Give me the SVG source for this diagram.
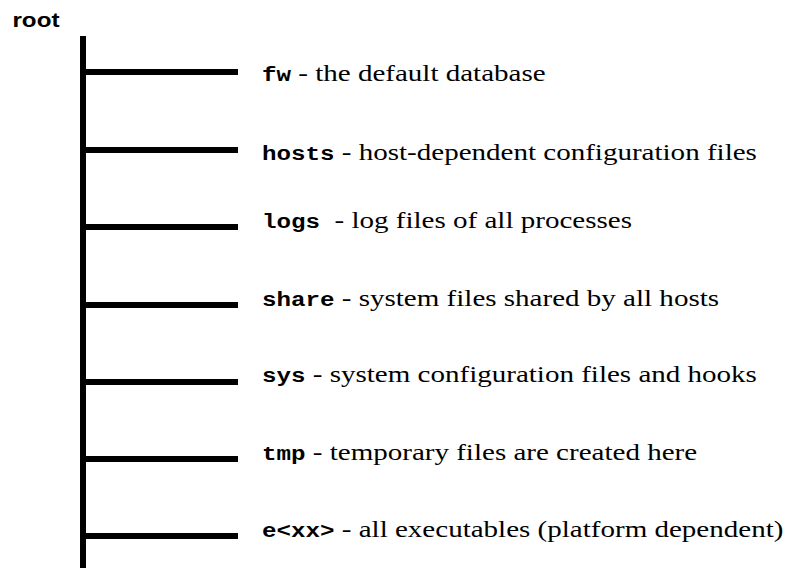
<svg xmlns="http://www.w3.org/2000/svg" width="788" height="568" viewBox="0 0 788 568">
<style>
.br{stroke:#000;stroke-width:6;fill:none}
.m{font-family:"Liberation Mono","Courier New",monospace;font-weight:bold;font-size:20px}
.t{font-family:"Liberation Serif","Times New Roman",serif;font-size:24px;fill:#000;white-space:pre}
.root{font-family:"Liberation Sans",Arial,sans-serif;font-weight:bold;font-size:20px;fill:#000}
</style>
<rect width="788" height="568" fill="#fff"/>
<g id="connectors">
<line class="br" x1="83" y1="36" x2="83" y2="568"/>
<line class="br" x1="83" y1="72" x2="238" y2="72"/>
<line class="br" x1="83" y1="150" x2="238" y2="150"/>
<line class="br" x1="83" y1="227" x2="238" y2="227"/>
<line class="br" x1="83" y1="305" x2="238" y2="305"/>
<line class="br" x1="83" y1="382" x2="238" y2="382"/>
<line class="br" x1="83" y1="459" x2="238" y2="459"/>
<line class="br" x1="83" y1="536" x2="238" y2="536"/>
</g>
<g transform="scale(1.21,1)">
<g id="root"><text class="root" x="10.3" y="27">root</text></g>
<g id="fw"><text class="t" x="216.5" y="81"><tspan class="m">fw</tspan> - the default database</text></g>
<g id="hosts"><text class="t" x="216.5" y="160"><tspan class="m">hosts</tspan> - host-dependent configuration files</text></g>
<g id="logs"><text class="t" x="216.5" y="228" xml:space="preserve"><tspan class="m">logs </tspan>- log files of all processes</text></g>
<g id="share"><text class="t" x="216.5" y="306"><tspan class="m">share</tspan> - system files shared by all hosts</text></g>
<g id="sys"><text class="t" x="216.5" y="382"><tspan class="m">sys</tspan> - system configuration files and hooks</text></g>
<g id="tmp"><text class="t" x="216.5" y="460"><tspan class="m">tmp</tspan> - temporary files are created here</text></g>
<g id="exx"><text class="t" x="216.5" y="537"><tspan class="m">e&lt;xx&gt;</tspan> - all executables (platform dependent)</text></g>
</g>
</svg>
